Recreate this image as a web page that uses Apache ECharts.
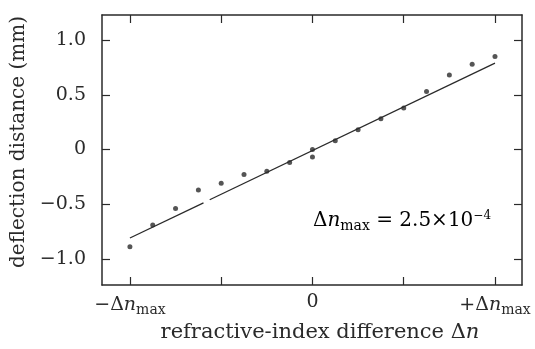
<!DOCTYPE html>
<html>
<head>
<meta charset="utf-8">
<script src="https://cdn.jsdelivr.net/npm/echarts@6/dist/echarts.min.js"></script>
<style>html,body{margin:0;padding:0;background:#fff}#c{width:535px;height:349px}</style>
</head>
<body>
<div id="c"></div>
<script>
// x in units of Δn_max
var xVals = [-1, -0.875, -0.75, -0.625, -0.5, -0.375, -0.25, -0.125, 0, 0, 0.125, 0.25, 0.375, 0.5, 0.625, 0.75, 0.875, 1];
var yVals = [-0.89, -0.69, -0.54, -0.37, -0.31, -0.23, -0.20, -0.12, 0.0, -0.07, 0.08, 0.18, 0.28, 0.38, 0.53, 0.68, 0.78, 0.85];
// fitted line (drawn in two pieces, as in the scan)
var fitX1 = [-1, -0.597];
var fitY1 = [-0.81, -0.488];
var fitX2 = [-0.563, 1];
var fitY2 = [-0.46, 0.79];
var yTicks = [-1, -0.5, 0, 0.5, 1];
var xTicks = [-1, -0.5, 0, 0.5, 1];
var xLabelTicks = [-1, 0, 1];

var F = '"DejaVu Serif", "Liberation Serif", serif';
var C = '#2a2a2a';
function pairs(xs, ys){ return xs.map(function(x,i){return [x, ys[i]];}); }
function fmtY(v){ if (v === 0) return '0'; var s = Math.abs(v).toFixed(1); return (v < 0 ? '\u2212' : '') + s; }
function rich(sz){
  return {
    r: {fontFamily: F, fontSize: sz, color: C},
    i: {fontFamily: F, fontSize: sz, fontStyle: 'italic', color: C},
    s: {fontFamily: F, fontSize: Math.round(sz * 0.72), color: C, padding: [Math.round(sz * 0.5), 0, 0, 0]},
    p: {fontFamily: F, fontSize: Math.round(sz * 0.62), color: C, padding: [0, 0, Math.round(sz * 0.5), 0]}
  };
}

var chart = echarts.init(document.getElementById('c'));
var axisLine = {show: true, onZero: false, lineStyle: {color: C, width: 1.5}};
var tick = function(vals){ return {show: true, inside: true, length: 8, customValues: vals, lineStyle: {color: C, width: 1.2}}; };
chart.setOption({
  animation: false,
  backgroundColor: '#fff',
  grid: {left: 102, right: 13, top: 15, bottom: 64},
  xAxis: [{
    type: 'value', min: -1.153, max: 1.148, position: 'bottom',
    axisLine: axisLine, axisTick: tick(xTicks),
    splitLine: {show: false},
    axisLabel: {
      customValues: xLabelTicks, margin: 8,
      formatter: function(v){
        if (v === 0) return '{r|0}';
        return (v < 0 ? '{r|\u2212\u0394}' : '{r|+\u0394}') + '{i|n}{s|max}';
      },
      rich: rich(19)
    },
    name: '{r|refractive-index difference \u0394}{i|n}',
    nameLocation: 'middle', nameGap: 27,
    nameTextStyle: {padding: [0, 0, 0, 16], rich: rich(21)}
  }, {
    type: 'value', min: -1.153, max: 1.148, position: 'top',
    axisLine: axisLine, axisTick: tick(xTicks),
    axisLabel: {show: false}, splitLine: {show: false}
  }],
  yAxis: [{
    type: 'value', min: -1.24, max: 1.23, position: 'left',
    axisLine: axisLine, axisTick: tick(yTicks),
    splitLine: {show: false},
    axisLabel: {customValues: yTicks, margin: 16, formatter: fmtY, fontFamily: F, fontSize: 19, color: C},
    name: 'deflection distance (mm)', nameLocation: 'middle', nameGap: 70, nameRotate: 90,
    nameTextStyle: {fontFamily: F, fontSize: 20, color: C, padding: [0, 0, 0, 16]}
  }, {
    type: 'value', min: -1.24, max: 1.23, position: 'right',
    axisLine: axisLine, axisTick: tick(yTicks),
    axisLabel: {show: false}, splitLine: {show: false}
  }],
  series: [{
    type: 'scatter', data: pairs(xVals, yVals), symbolSize: 5,
    itemStyle: {color: C}
  }, {
    type: 'line', data: pairs(fitX1, fitY1), symbol: 'none',
    lineStyle: {color: C, width: 1.3}
  }, {
    type: 'line', data: pairs(fitX2, fitY2), symbol: 'none',
    lineStyle: {color: C, width: 1.3}
  }],
  graphic: [{
    type: 'text', left: 313, top: 210,
    style: {
      text: '{r|\u0394}{i|n}{s|max}{r| = 2.5\u00d710}{p|\u22124}',
      rich: rich(20)
    }
  }]
});
</script>
</body>
</html>
